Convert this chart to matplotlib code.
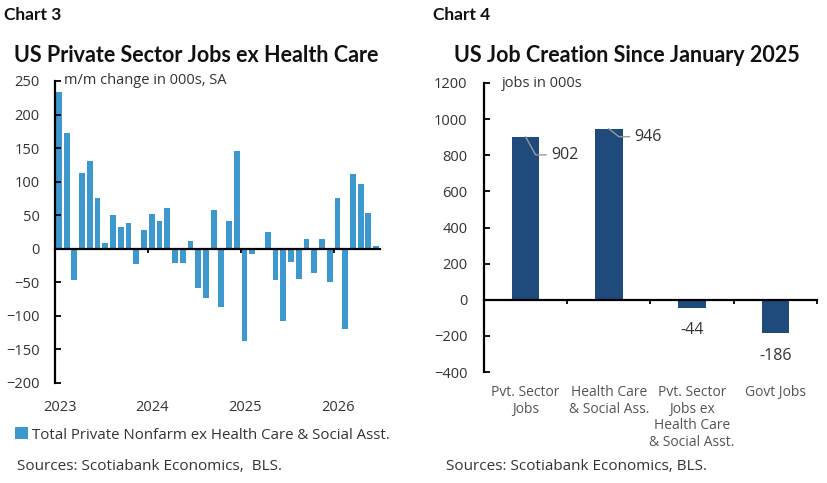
import numpy as np
import matplotlib.pyplot as plt
from matplotlib.transforms import blended_transform_factory

plt.rcParams['font.family'] = ['Open Sans', 'DejaVu Sans']

# Chart 3 data: monthly change, Jan 2023 - Jun 2026 (000s)
monthly = [233, 173, -46, 113, 131, 76, 8, 50, 32, 39, -23, 28,
           52, 42, 61, -21, -21, 11, -58, -74, 58, -87, 41, 146,
           -137, -8, -2, 25, -46, -107, -19, -45, 14, -36, 14, -50,
           76, -120, 112, 96, 54, 4]
years = ['2023', '2024', '2025', '2026']

# Chart 4 data
categories = ['Pvt. Sector\nJobs', 'Health Care\n& Social Ass.',
              'Pvt. Sector\nJobs ex\nHealth Care\n& Social Asst.', 'Govt Jobs']
jobs = [902, 946, -44, -186]

light_blue = '#3d98cd'
navy = '#1f4a7c'
txt = '#333333'
head = dict(family=['Lato', 'DejaVu Sans'], fontweight='bold', color='#111111')

fig = plt.figure(figsize=(8.28, 4.83), dpi=100)
W, H = 828, 483

def px(x0, y0, x1, y1):
    return [x0 / W, 1 - y1 / H, (x1 - x0) / W, (y1 - y0) / H]

# ---------- Chart 3 ----------
ax1 = fig.add_axes(px(55, 81, 380, 383))
x = np.arange(len(monthly))
ax1.bar(x, monthly, width=0.75, color=light_blue,
        label='Total Private Nonfarm ex Health Care & Social Asst.')
ax1.set_xlim(-0.5, len(monthly) - 0.5)
ax1.set_ylim(-200, 250)
ax1.set_yticks(np.arange(-200, 251, 50))
ax1.spines['top'].set_visible(False)
ax1.spines['right'].set_visible(False)
ax1.spines['bottom'].set_position(('data', 0))
ax1.spines['left'].set_linewidth(1.6)
ax1.spines['bottom'].set_linewidth(1.6)
ax1.tick_params(axis='y', direction='in', length=4, width=1.3, pad=11,
                labelsize=10.5, labelcolor=txt)
year_pos = [-0.5 + 12 * i for i in range(len(years))]
ax1.set_xticks(year_pos[1:])
ax1.set_xticklabels([])
ax1.tick_params(axis='x', direction='out', length=3, width=1.3)
tr = blended_transform_factory(ax1.transData, ax1.transAxes)
for p, lab in zip(year_pos, years):
    ax1.text(p + 0.6, -0.08, lab, transform=tr, ha='center', va='center',
             fontsize=10.5, color=txt)
ax1.text(0.028, 1.0, 'm/m change in 000s, SA', transform=ax1.transAxes,
         ha='left', va='center', fontsize=10.5, color=txt)

fig.text(196 / W, 1 - 55 / H, 'US Private Sector Jobs ex Health Care',
         ha='center', va='center', fontsize=15.5, **head)
fig.text(4 / W, 1 - 15 / H, 'Chart 3', ha='left', va='center',
         fontsize=12.5, **head)
leg = fig.legend(loc='center left', bbox_to_anchor=(9 / W, 1 - 435 / H),
                 frameon=False, fontsize=10.8, handlelength=0.85,
                 handleheight=0.85, handletextpad=0.3, borderaxespad=0)
for t in leg.get_texts():
    t.set_color(txt)
fig.text(17 / W, 1 - 466 / H, 'Sources: Scotiabank Economics,  BLS.',
         ha='left', va='center', fontsize=11, color=txt)

# ---------- Chart 4 ----------
ax2 = fig.add_axes(px(484, 83, 817, 372))
cx = np.arange(len(jobs))
ax2.bar(cx, jobs, width=0.33, color=navy)
ax2.set_xlim(-0.5, len(jobs) - 0.5)
ax2.set_ylim(-400, 1200)
ax2.set_yticks(np.arange(-400, 1201, 200))
ax2.spines['top'].set_visible(False)
ax2.spines['right'].set_visible(False)
ax2.spines['bottom'].set_position(('data', 0))
ax2.spines['left'].set_linewidth(1.6)
ax2.spines['bottom'].set_linewidth(1.6)
ax2.tick_params(axis='y', direction='in', length=4, width=1.3, pad=12,
                labelsize=10.5, labelcolor=txt)
ax2.set_xticks(cx + 0.5)
ax2.set_xticklabels([])
ax2.tick_params(axis='x', direction='out', length=3, width=1.3)
tr2 = blended_transform_factory(ax2.transData, ax2.transAxes)
for c, lab in zip(cx, categories):
    ax2.text(c, -0.045, lab, transform=tr2, ha='center', va='top',
             fontsize=10, color='#555555', linespacing=1.15)

# value labels; the two positive bars use leader lines
for c, v in zip(cx, jobs):
    if v > 0:
        ly = v - (100 if c == 0 else 43)
        ax2.plot([c, c + 0.12, c + 0.245], [v, ly, ly], color='#9a9a9a', lw=1)
        ax2.text(c + 0.31, ly, f'{v}', ha='left', va='center',
                 fontsize=11.5, color=txt)
    else:
        ax2.text(c, v - 123, f'{v}', ha='center', va='center',
                 fontsize=11.5, color=txt)
ax2.text(0.054, 1.0, 'jobs in 000s', transform=ax2.transAxes,
         ha='left', va='center', fontsize=10.5, color=txt)

fig.text(627 / W, 1 - 55 / H, 'US Job Creation Since January 2025',
         ha='center', va='center', fontsize=15.5, **head)
fig.text(433 / W, 1 - 15 / H, 'Chart 4', ha='left', va='center',
         fontsize=12.5, **head)
fig.text(446 / W, 1 - 466 / H, 'Sources: Scotiabank Economics, BLS.',
         ha='left', va='center', fontsize=11, color=txt)

fig.savefig('out.png', dpi=100, facecolor='white')
